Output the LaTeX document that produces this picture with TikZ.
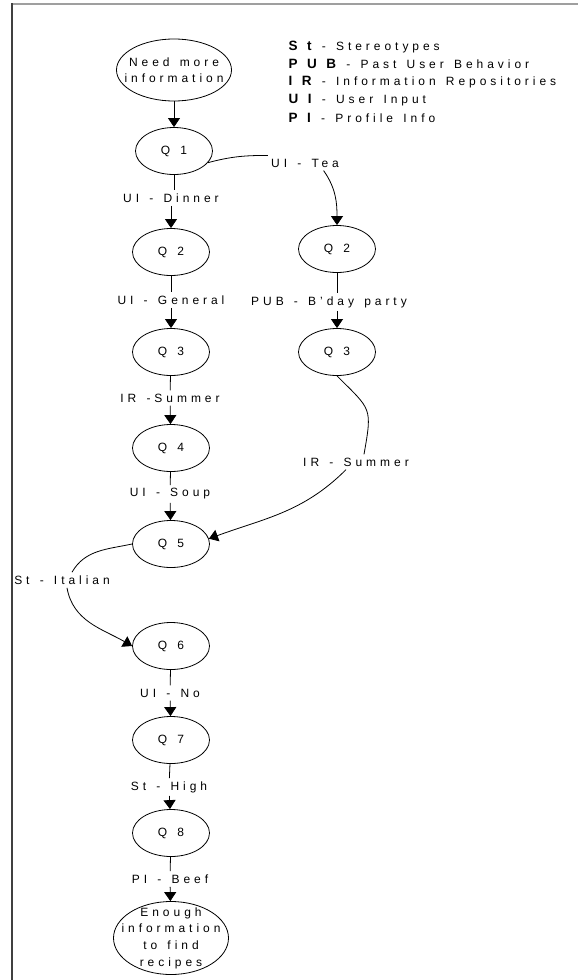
\documentclass[tikz,border=0pt]{standalone}
\usepackage{fontspec}
\setmainfont[LetterSpace=33, WordSpace=1.4]{Liberation Sans}
\newfontfamily\keyfont[LetterSpace=70]{Liberation Sans}
\usetikzlibrary{arrows.meta,shapes.geometric,calc}
\newcommand\legendrow[2]{{\keyfont\fontsize{13.5}{15}\selectfont\bfseries #1} - #2}

\begin{document}
\begin{tikzpicture}[x=1pt, y=1pt, >={Triangle[length=9pt,width=12pt]}, line width=0.8pt,
  every node/.style={font=\fontsize{12}{14}\selectfont},
  qnode/.style={draw, ellipse, minimum width=77pt, minimum height=47pt, inner sep=0pt},
  bignode/.style={draw, ellipse, minimum width=115pt, inner sep=0pt},
  lbl/.style={inner sep=3pt}]
\useasboundingbox (0,0) rectangle (578,-980);
\draw[line width=1.4pt, gray!75] (12,-4) -- (578,-4);
\draw[line width=1.6pt, gray!50!black] (12,-3.3) -- (12,-980);

% legend
\node[anchor=west](kSt) at (285,-47){\legendrow{St}{Stereotypes}};
\node[anchor=west](kPUB) at (285,-64){\legendrow{PUB}{Past User Behavior}};
\node[anchor=west](kIR) at (285,-82){\legendrow{IR}{Information Repositories}};
\node[anchor=west](kUI) at (285,-100){\legendrow{UI}{User Input}};
\node[anchor=west](kPI) at (285,-118){\legendrow{PI}{Profile Info}};

% left column
\node[bignode, minimum height=62pt, label={[align=center, font=\fontsize{12}{16}\selectfont]center:Need more\\information}](need) at (174,-70){};
\node[qnode](Q1) at (174,-151){Q 1};
\node[lbl](dinner) at (171,-198){UI - Dinner};
\node[qnode](Q2) at (171,-252){Q 2};
\node[lbl](general) at (171,-300){UI - General};
\node[qnode](Q3) at (171,-352){Q 3};
\node[lbl](irsum) at (170,-398){IR -Summer};
\node[qnode](Q4) at (171,-448){Q 4};
\node[lbl](soup) at (170,-494){UI - Soup};
\node[qnode](Q5) at (171,-544){Q 5};
\node[lbl](ital) at (62,-580){St - Italian};
\node[qnode](Q6) at (171,-646){Q 6};
\node[lbl](no) at (170,-693){UI - No};
\node[qnode](Q7) at (171,-740){Q 7};
\node[lbl](high) at (169,-787){St - High};
\node[qnode](Q8) at (171,-833){Q 8};
\node[lbl](beef) at (170,-879){PI - Beef};
\node[bignode, minimum height=73pt, label={[align=center, font=\fontsize{12}{16.7}\selectfont]center:Enough\\information\\to find\\recipes}](done) at (171,-938){};

% right column
\node[lbl](tea) at (305,-163){UI - Tea};
\node[qnode](R2) at (337,-249){Q 2};
\node[lbl](bday) at (329,-302){PUB - B'day party};
\node[qnode](R3) at (337,-352){Q 3};
\node[lbl](irs) at (356,-462){IR - Summer};

\draw[->](need)--(Q1);
\draw(Q1.south)--(Q1.south|-dinner.north);
\draw[->](dinner)--(Q2);
\draw(Q2)--(general);
\draw[->](general)--(Q3);
\draw(Q3)--(irsum);
\draw[->](irsum)--(Q4);
\draw(Q4)--(soup);
\draw[->](soup)--(Q5);
\draw(Q6)--(no);
\draw[->](no)--(Q7);
\draw(Q7)--(high);
\draw[->](high)--(Q8);
\draw(Q8)--(beef);
\draw[->](beef)--(done);

\draw(Q1.-19) to[out=15, in=180](tea.north west);
\draw[->]($(tea.south)!0.5!(tea.south east)$) to[out=-55, in=90](R2.north);
\draw(R2.south)--(R2.south|-bday.north);
\draw[->](R2.south|-bday.south)--(R3);
\draw(R3.south) to[out=-45, in=80, looseness=1.5]($(irs.north)+(8,0)$);
\draw[->]($(irs.south)+(-10,0)$) to[out=-135, in=20](Q5.8);
\draw(Q5.west) to[out=192, in=60]($(ital.north)+(10,0)$);
\draw[->]($(ital.south)+(5,0)$) to[out=-80, in=150](Q6.west);
\end{tikzpicture}
\end{document}
